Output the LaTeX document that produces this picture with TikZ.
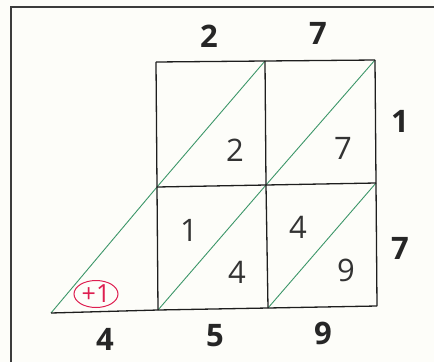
\documentclass[tikz,border=0pt]{standalone}
\usepackage{fontspec}
\setmainfont{Open Sans}
\usetikzlibrary{shapes.geometric}
\definecolor{bgc}{RGB}{253,253,249}
\definecolor{gridc}{RGB}{30,30,30}
\definecolor{diagc}{RGB}{60,150,105}
\definecolor{markc}{RGB}{222,30,80}
\definecolor{framec}{RGB}{60,60,60}
\begin{document}
\begin{tikzpicture}[x=1pt,y=-1pt,
  gridline/.style={draw=gridc,line width=1.3pt},
  diagline/.style={draw=diagc,line width=0.9pt},
  outer/.style={font=\fontsize{31}{31}\selectfont\bfseries,text=black!85,inner sep=0pt},
  inner/.style={font=\fontsize{31}{31}\selectfont,text=black!80,inner sep=0pt},
  carrymark/.style={draw=markc,text=markc,ellipse,line width=1pt,inner sep=0pt,minimum width=44pt,minimum height=27pt,font=\fontsize{25}{25}\selectfont}]
\useasboundingbox (0,0) rectangle (434,362);
\fill[bgc] (0,0) rectangle (434,362);
\draw[framec,line width=1.6pt] (11,362) -- (11,7) -- (434,7);
% grid points
\coordinate (A1) at (156,62);  \coordinate (A2) at (265,61);  \coordinate (A3) at (375,60);
\coordinate (B1) at (157,187); \coordinate (B2) at (266,185); \coordinate (B3) at (376,183);
\coordinate (C1) at (158,310); \coordinate (C2) at (268,308); \coordinate (C3) at (377,306);
\coordinate (C0) at (51,313);
% diagonals
\draw[diagline] (B1) -- (A2);
\draw[diagline] (B2) -- (A3);
\draw[diagline] (C0) -- (B1);
\draw[diagline] (C1) -- (B2);
\draw[diagline] (C2) -- (B3);
% grid
\draw[gridline] (A1) -- (A2) -- (A3);
\draw[gridline] (B1) -- (B2) -- (B3);
\draw[gridline] (C0) -- (C1) -- (C2) -- (C3);
\draw[gridline] (A1) -- (B1) -- (C1);
\draw[gridline] (A2) -- (B2) -- (C2);
\draw[gridline] (A3) -- (B3) -- (C3);
% outer digits
\node[outer] (t1) at (209,36) {2};
\node[outer] (t2) at (318,33) {7};
\node[outer] (r1) at (400,121) {1};
\node[outer] (r2) at (400,248) {7};
\node[outer] (b1) at (105,339) {4};
\node[outer] (b2) at (215,336) {5};
\node[outer] (b3) at (323,333) {9};
% inner digits
\node[inner] (i1) at (235,150) {2};
\node[inner] (i2) at (343,148) {7};
\node[inner] (i3) at (189,230) {1};
\node[inner] (i4) at (237,272) {4};
\node[inner] (i5) at (298,227) {4};
\node[inner] (i6) at (346,270) {9};
\node[carrymark] (p1) at (96,294) {+1};
\end{tikzpicture}
\end{document}
